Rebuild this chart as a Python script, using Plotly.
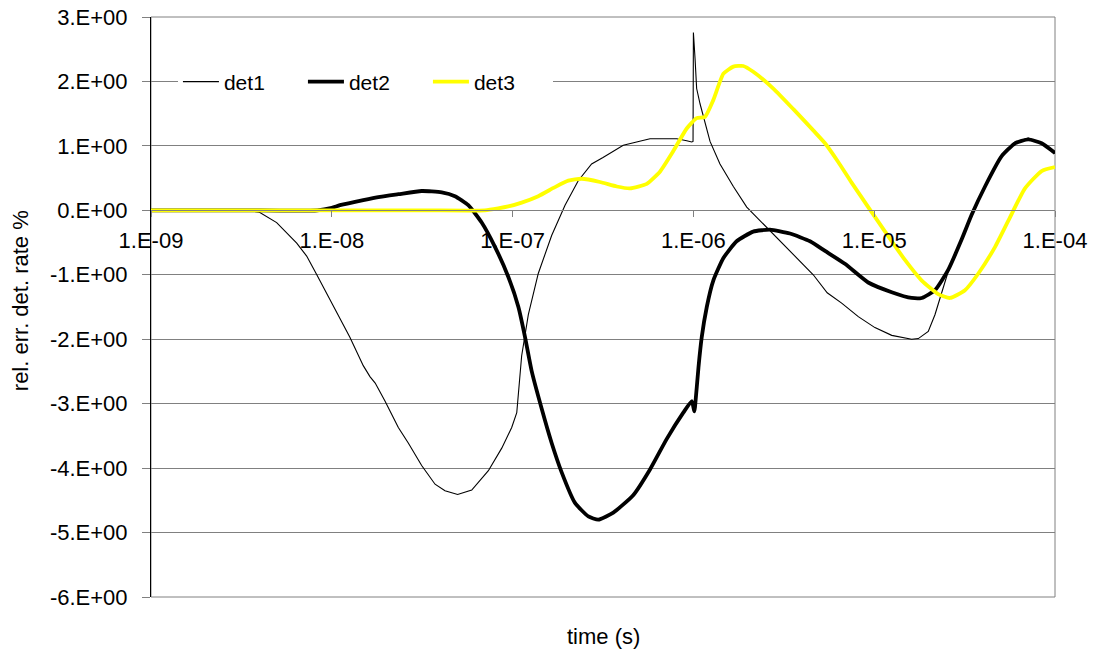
import plotly.graph_objects as go

# ---- data (log10 of time in s, relative error in %) ----
det1_logt = [-9.0, -8.7, -8.47, -8.40, -8.305, -8.194, -8.139, -8.083, -7.99, -7.90, -7.826, -7.789,
             -7.76, -7.706, -7.632, -7.577, -7.503, -7.429, -7.374, -7.304, -7.226, -7.134, -7.06,
             -7.005, -6.977, -6.968, -6.95, -6.913, -6.858, -6.784, -6.71, -6.637, -6.563, -6.50,
             -6.388, -6.24, -6.092, -6.037, -6.009, -6.002, -6.0, -5.991, -5.982, -5.963, -5.936,
             -5.908, -5.853, -5.779, -5.705, -5.594, -5.466, -5.337, -5.26, -5.18, -5.088, -4.996,
             -4.903, -4.793, -4.756, -4.701, -4.664, -4.627, -4.581, -4.516, -4.461, -4.387, -4.295,
             -4.221, -4.148, -4.074, -4.0]
det1_val = [0.0, 0.0, 0.0, -0.03, -0.19, -0.51, -0.71, -1.0, -1.50, -1.97, -2.41, -2.58,
            -2.68, -2.96, -3.37, -3.61, -3.96, -4.25, -4.35, -4.41, -4.34, -4.04, -3.69,
            -3.37, -3.14, -2.85, -2.26, -1.62, -0.98, -0.39, 0.08, 0.46, 0.72, 0.82,
            1.01, 1.11, 1.11, 1.08, 1.06, 1.07, 2.76, 2.36, 1.89, 1.65, 1.36,
            1.07, 0.72, 0.37, 0.05, -0.27, -0.63, -1.0, -1.28, -1.44, -1.65, -1.82,
            -1.94, -2.0, -1.99, -1.88, -1.62, -1.27, -0.86, -0.43, -0.06, 0.38, 0.86,
            1.06, 1.12, 1.05, 0.88]

det2_logt = [-9.0, -8.5, -8.08, -8.0, -7.955, -7.826, -7.733, -7.632, -7.503, -7.392, -7.319, -7.245,
             -7.171, -7.097, -7.024, -6.968, -6.931, -6.894, -6.839, -6.784, -6.728, -6.655, -6.581,
             -6.526, -6.443, -6.333, -6.24, -6.148, -6.056, -6.009, -5.995, -5.991, -5.972, -5.954,
             -5.926, -5.89, -5.834, -5.761, -5.669, -5.576, -5.466, -5.355, -5.272, -5.162, -5.033,
             -4.903, -4.793, -4.737, -4.664, -4.59, -4.516, -4.461, -4.387, -4.295, -4.221, -4.148,
             -4.074, -4.0]
det2_val = [0.0, 0.0, 0.0, 0.04, 0.08, 0.16, 0.21, 0.25, 0.30, 0.28, 0.22, 0.08,
            -0.19, -0.57, -1.03, -1.50, -1.97, -2.50, -3.08, -3.61, -4.07, -4.54, -4.75,
            -4.80, -4.69, -4.42, -4.02, -3.55, -3.14, -2.96, -3.12, -3.05, -2.44, -1.97,
            -1.50, -1.09, -0.74, -0.48, -0.33, -0.30, -0.36, -0.48, -0.63, -0.83, -1.12,
            -1.27, -1.36, -1.36, -1.24, -0.92, -0.45, -0.07, 0.37, 0.84, 1.04, 1.10,
            1.04, 0.89]

det3_logt = [-9.0, -7.5, -7.153, -7.08, -7.024, -6.95, -6.858, -6.766, -6.692, -6.618, -6.517, -6.424,
             -6.351, -6.258, -6.185, -6.111, -6.037, -5.982, -5.936, -5.89, -5.834, -5.779, -5.724,
             -5.669, -5.558, -5.447, -5.337, -5.272, -5.199, -5.125, -5.033, -4.94, -4.83, -4.737,
             -4.646, -4.581, -4.498, -4.424, -4.332, -4.258, -4.166, -4.074, -4.0]
det3_val = [0.0, 0.0, 0.0, 0.03, 0.06, 0.12, 0.22, 0.36, 0.46, 0.49, 0.44, 0.37,
            0.34, 0.41, 0.60, 0.92, 1.27, 1.43, 1.45, 1.71, 2.12, 2.23, 2.24,
            2.15, 1.89, 1.57, 1.24, 1.04, 0.75, 0.43, 0.05, -0.33, -0.77, -1.09,
            -1.30, -1.36, -1.24, -0.98, -0.57, -0.16, 0.34, 0.61, 0.67]

x_tick_exp = [-9, -8, -7, -6, -5, -4]
x_tick_text = ["1.E-09", "1.E-08", "1.E-07", "1.E-06", "1.E-05", "1.E-04"]
y_tick_vals = [-6, -5, -4, -3, -2, -1, 0, 1, 2, 3]
y_tick_text = ["-6.E+00", "-5.E+00", "-4.E+00", "-3.E+00", "-2.E+00", "-1.E+00",
               "0.E+00", "1.E+00", "2.E+00", "3.E+00"]

FONT = "Liberation Sans, Arial, sans-serif"

fig = go.Figure()
fig.add_trace(go.Scatter(x=[10 ** v for v in det1_logt], y=det1_val, name="det1", mode="lines",
                         line=dict(color="black", width=1.1)))
fig.add_trace(go.Scatter(x=[10 ** v for v in det2_logt], y=det2_val, name="det2", mode="lines",
                         line=dict(color="black", width=3.8, shape="spline", smoothing=0.5)))
fig.add_trace(go.Scatter(x=[10 ** v for v in det3_logt], y=det3_val, name="det3", mode="lines",
                         line=dict(color="#FFFF00", width=3.8, shape="spline", smoothing=0.5)))

fig.update_layout(
    width=1101, height=656,
    margin=dict(l=151, r=46, t=17, b=59, autoexpand=False),
    plot_bgcolor="white", paper_bgcolor="white",
    font=dict(family=FONT, size=22, color="black"),
    showlegend=True,
    legend=dict(orientation="h", x=0.0298, y=0.888, xanchor="left", yanchor="middle",
                bgcolor="white", font=dict(family=FONT, size=21, color="black"),
                itemwidth=36, entrywidth=74, entrywidthmode="pixels"),
    xaxis=dict(type="log", range=[-9, -4],
               tickvals=[10 ** e for e in x_tick_exp], ticktext=x_tick_text,
               showgrid=False, zeroline=False, automargin=False,
               showline=True, linecolor="#808080", linewidth=1,
               ticks="outside", ticklen=6, tickcolor="#808080",
               anchor="free", position=6 / 9, ticklabelstandoff=4,
               ticklabeloverflow="allow",
               tickfont=dict(family=FONT, size=22, color="black")),
    yaxis=dict(range=[-6, 3], tickvals=y_tick_vals, ticktext=y_tick_text,
               showgrid=True, gridcolor="#808080", gridwidth=1, zeroline=False,
               automargin=False,
               showline=True, linecolor="black", linewidth=1,
               ticks="outside", ticklen=8, tickcolor="#808080",
               ticklabelstandoff=10, ticklabeloverflow="allow",
               tickfont=dict(family=FONT, size=22, color="black")),
    shapes=[dict(type="rect", xref="paper", yref="paper", x0=0, x1=1, y0=0, y1=1,
                 line=dict(color="#808080", width=1), layer="below")],
    annotations=[
        dict(text="time (s)", xref="paper", yref="paper", x=0.5, y=(597 - 636) / 580,
             xanchor="center", yanchor="middle", showarrow=False,
             font=dict(family=FONT, size=22, color="black")),
        dict(text="rel. err. det. rate %", xref="paper", yref="paper", x=(20 - 151) / 904,
             y=0.51, xanchor="center", yanchor="middle", textangle=-90,
             showarrow=False, font=dict(family=FONT, size=22, color="black")),
    ],
)

# remove the default 8px page margin so the figure fills the window exactly
fig.write_html("out.html", config={"displayModeBar": False},
               post_script="document.body.style.margin='0';")
